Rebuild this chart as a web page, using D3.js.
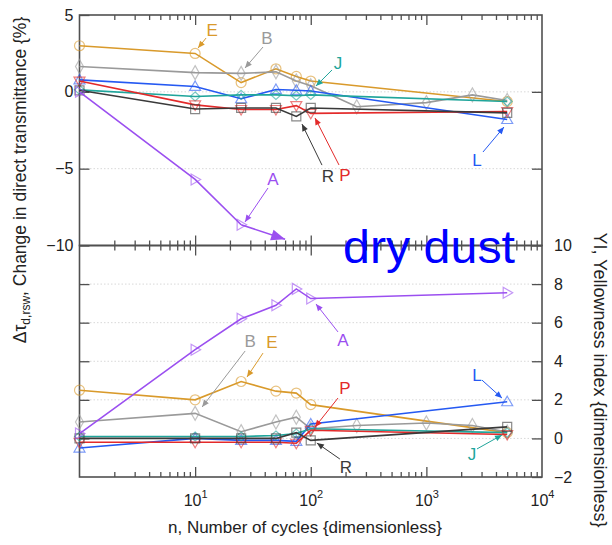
<!DOCTYPE html>
<html>
<head>
<meta charset="utf-8">
<script src="https://cdn.jsdelivr.net/npm/d3@7/dist/d3.min.js"></script>
<style>
  html, body { margin: 0; padding: 0; background: #fff; }
  svg { display: block; }
  text { font-family: "Liberation Sans", Arial, sans-serif; }
</style>
</head>
<body>
<svg id="chart" width="612" height="545"></svg>
<script>
// ---- data -------------------------------------------------------------
const cycles     = [1, 10, 25, 50, 75, 100, 5000];
const cyclesB    = [1, 10, 25, 50, 75, 100, 250, 1000, 2500, 5000];
const cyclesAtop = [1, 10, 25];

// change in direct transmittance, %
const transE = [3.0, 2.5, 0.6, 1.5, 1.0, 0.7, -0.63];
const transB = [1.65, 1.25, 1.2, 1.3, 0.7, 0.4, -0.97, -0.7, -0.2, -0.56];
const transL = [0.78, 0.35, -0.45, 0.15, 0.1, 0.05, -1.8];
const transJ = [0.13, -0.3, -0.2, -0.2, -0.25, -0.2, -0.63];
const transP = [0.7, -0.85, -1.15, -1.15, -0.9, -1.4, -1.28];
const transR = [0.1, -1.12, -1.05, -1.05, -1.6, -1.05, -1.37];
const transA = [0, -5.7, -8.65];
// A leaves the bottom of the transmittance panel after 25 cycles
const transAoff = {n: 60, v: -9.6};

// yellowness index
const yiE = [2.5, 2.0, 2.95, 2.45, 2.35, 1.75, 0.3];
const yiB = [0.85, 1.3, 0.35, 0.85, 1.1, 0.5, 0.67, 0.8, 0.67, 0.33];
const yiL = [-0.5, 0.0, -0.1, -0.1, -0.15, 0.75, 1.9];
const yiJ = [0.1, 0.1, 0.1, 0.15, 0.25, 0.5, 0.3];
const yiP = [-0.2, -0.2, -0.2, -0.2, -0.25, 0.42, 0.2];
const yiR = [0.0, 0.0, 0.0, 0.0, 0.3, -0.1, 0.6];
const yiA = [0.25, 4.6, 6.2, 6.9, 7.75, 7.25, 7.55];

const transTicks = [-10, -5, 0, 5];
const yiTicks    = [-2, 0, 2, 4, 6, 8, 10];
const cycleLabelTicks = [10, 100, 1000, 10000];

// ---- styling per sample ---------------------------------------------------
const style = {
  E: {color: "#d99a2b", shape: "circle"},
  B: {color: "#9a9a9a", shape: "tallDiamond"},
  L: {color: "#2559f2", shape: "triUp"},
  J: {color: "#20a59b", shape: "diamond"},
  P: {color: "#e32a2a", shape: "triDown"},
  R: {color: "#3a3a3a", shape: "square"},
  A: {color: "#9b4ff0", shape: "triRight"}
};

const topSeries = [
  {key: "E", n: cycles, v: transE},
  {key: "B", n: cyclesB, v: transB},
  {key: "L", n: cycles, v: transL},
  {key: "J", n: cycles, v: transJ},
  {key: "P", n: cycles, v: transP},
  {key: "R", n: cycles, v: transR},
  {key: "A", n: cyclesAtop, v: transA}
];
const botSeries = [
  {key: "E", n: cycles, v: yiE},
  {key: "B", n: cyclesB, v: yiB},
  {key: "L", n: cycles, v: yiL},
  {key: "J", n: cycles, v: yiJ},
  {key: "P", n: cycles, v: yiP},
  {key: "R", n: cycles, v: yiR},
  {key: "A", n: cycles, v: yiA}
];

// callouts: tip in data units, text / arrow-tail as pixel offsets from the tip
const topNotes = [
  {key: "E", n: 10.6, v: 2.85, sx: 8,  sy: -10, tx: 14, ty: -18},
  {key: "B", n: 27,   v: 1.55, sx: 18, sy: -21, tx: 22, ty: -30},
  {key: "J", n: 111,  v: 0.38, sx: 16, sy: -16, tx: 22, ty: -22},
  {key: "R", n: 84,   v: -2.1, sx: 20, sy: 41,  tx: 26, ty: 52},
  {key: "P", n: 108.8,v: -1.7, sx: 24, sy: 47,  tx: 30, ty: 58},
  {key: "L", n: 4690, v: -2.29,sx: -21,sy: 25,  tx: -27,ty: 33},
  {key: "A", n: 27,   v: -8.47,sx: 23, sy: -34, tx: 28, ty: -42}
];
const botNotes = [
  {key: "A", n: 111,  v: 6.97, sx: 22, sy: 28,  tx: 27, ty: 37},
  {key: "B", n: 11.5, v: 1.63, sx: 43, sy: -56, tx: 48, ty: -65},
  {key: "E", n: 28.1, v: 3.18, sx: 16, sy: -24, tx: 25, ty: -35},
  {key: "P", n: 108.8,v: 0.59, sx: 23, sy: -29, tx: 30, ty: -39},
  {key: "L", n: 4508, v: 2.09, sx: -20,sy: -18, tx: -25,ty: -23},
  {key: "R", n: 113,  v: -0.24,sx: 23, sy: 16,  tx: 29, ty: 24},
  {key: "J", n: 4508, v: 0.18, sx: -25,sy: 14,  tx: -30,ty: 20}
];

// ---- scales -----------------------------------------------------------
const L = 79.5, Rr = 542, T = 15, MID = 245.5, B = 477;
const x = d3.scaleLog().domain([1, 1e4]).range([L, Rr]);
const yTop = d3.scaleLinear().domain([-10, 5]).range([MID, T]);
const yBot = d3.scaleLinear().domain([-2, 10]).range([B, MID]);

const svg = d3.select("#chart");
const frameColor = "#505050";

// ---- gridlines ------------------------------------------------------------
const grid = svg.append("g").attr("stroke", "#d8d8d8").attr("stroke-width", 1)
  .attr("stroke-dasharray", "1.5,2");
grid.selectAll("line.t").data([-5, 0]).join("line")
  .attr("x1", L).attr("x2", Rr).attr("y1", d => yTop(d)).attr("y2", d => yTop(d));
grid.selectAll("line.b").data([0, 2, 4, 6, 8]).join("line")
  .attr("x1", L).attr("x2", Rr).attr("y1", d => yBot(d)).attr("y2", d => yBot(d));

// ---- axes / ticks -------------------------------------------------------------
const allLog = x.ticks();
const majors = allLog.filter(d => Math.abs(Math.log10(d) - Math.round(Math.log10(d))) < 1e-9);
const minors = allLog.filter(d => !majors.includes(d));

function edgeTicks(y, dir) {
  // dir: +1 draws ticks downward (top edge), -1 upward (bottom edge)
  const ax = dir > 0 ? d3.axisTop(x) : d3.axisBottom(x);
  svg.append("g").attr("transform", `translate(0,${y})`)
    .call(ax.tickValues(minors).tickSize(-5).tickFormat(""))
    .call(g => g.select(".domain").remove());
  svg.append("g").attr("transform", `translate(0,${y})`)
    .call((dir > 0 ? d3.axisTop(x) : d3.axisBottom(x)).tickValues(majors.filter(d => d > 1 && d < 1e4)).tickSize(-10).tickFormat(""))
    .call(g => g.select(".domain").remove());
}
edgeTicks(T, 1);
edgeTicks(MID, -1);
edgeTicks(MID, 1);
edgeTicks(B, -1);

// left, transmittance
svg.append("g").attr("transform", `translate(${L},0)`)
  .call(d3.axisLeft(yTop).tickValues(transTicks).tickSize(-10).tickPadding(6))
  .call(g => g.select(".domain").remove())
  .call(g => g.selectAll("text").attr("font-size", 16).attr("fill", "#222")
    .attr("font-family", "Liberation Sans, Arial, sans-serif"));
// right edge ticks of transmittance panel
svg.append("g").attr("transform", `translate(${Rr},0)`)
  .call(d3.axisRight(yTop).tickValues([-5, 0]).tickSize(-10).tickFormat(""))
  .call(g => g.select(".domain").remove());
// left edge ticks of YI panel
svg.append("g").attr("transform", `translate(${L},0)`)
  .call(d3.axisLeft(yBot).tickValues([0, 2, 4, 6, 8]).tickSize(-10).tickFormat(""))
  .call(g => g.select(".domain").remove());
// right, yellowness index
svg.append("g").attr("transform", `translate(${Rr},0)`)
  .call(d3.axisRight(yBot).tickValues(yiTicks).tickSize(-10).tickPadding(12))
  .call(g => g.select(".domain").remove())
  .call(g => g.selectAll("text").attr("font-size", 16).attr("fill", "#222")
    .attr("font-family", "Liberation Sans, Arial, sans-serif"));

svg.selectAll(".tick line").attr("stroke", frameColor).attr("stroke-width", 1.3);

// bottom labels 10^k
const xl = svg.append("g").attr("transform", `translate(0,${B})`)
  .call(d3.axisBottom(x).tickValues(cycleLabelTicks).tickSize(0).tickPadding(18).tickFormat(""))
  .call(g => g.select(".domain").remove());
xl.selectAll(".tick text").each(function(d) {
  const t = d3.select(this).attr("font-size", 16).attr("fill", "#222")
    .attr("font-family", "Liberation Sans, Arial, sans-serif");
  t.append("tspan").text("10");
  t.append("tspan").attr("font-size", 11).attr("dy", -8).text(Math.round(Math.log10(d)));
});

// frames
svg.append("rect").attr("x", L).attr("y", T).attr("width", Rr - L).attr("height", MID - T)
  .attr("fill", "none").attr("stroke", frameColor).attr("stroke-width", 1.6);
svg.append("rect").attr("x", L).attr("y", MID).attr("width", Rr - L).attr("height", B - MID)
  .attr("fill", "none").attr("stroke", frameColor).attr("stroke-width", 1.6);

// ---- markers ---------------------------------------------------------------
function markerPath(shape) {
  switch (shape) {
    case "circle": return "M5,0A5,5 0 1,1 -5,0A5,5 0 1,1 5,0Z";
    case "tallDiamond": return "M0,-7L4,0L0,7L-4,0Z";
    case "diamond": return "M0,-4.5L5,0L0,4.5L-5,0Z";
    case "triUp": return "M0,-5.5L5.5,4L-5.5,4Z";
    case "triDown": return "M0,5.5L5.5,-4L-5.5,-4Z";
    case "square": return "M-4.5,-4.5H4.5V4.5H-4.5Z";
    case "triRight": return "M5.5,0L-4,5.5L-4,-5.5Z";
  }
}

function drawPanel(series, y) {
  const g = svg.append("g");
  const line = d3.line().x(d => x(d[0])).y(d => y(d[1]));
  series.forEach(s => {
    const st = style[s.key];
    const pts = s.n.map((n, i) => [n, s.v[i]]);
    g.append("path").attr("d", line(pts)).attr("fill", "none")
      .attr("stroke", st.color).attr("stroke-width", 1.6);
    g.selectAll(null).data(pts).join("path")
      .attr("transform", d => `translate(${x(d[0])},${y(d[1])})`)
      .attr("d", markerPath(st.shape))
      .attr("fill", "none").attr("stroke", st.color).attr("stroke-opacity", 0.6)
      .attr("stroke-width", 1.2);
  });
  return g;
}

function arrowHead(g, x0, y0, x1, y1, color, len, half) {
  const a = Math.atan2(y1 - y0, x1 - x0);
  const bx = x1 - len * Math.cos(a), by = y1 - len * Math.sin(a);
  const px = -Math.sin(a) * half, py = Math.cos(a) * half;
  g.append("path")
    .attr("d", `M${x1},${y1}L${bx + px},${by + py}L${bx - px},${by - py}Z`)
    .attr("fill", color);
}

const gTop = drawPanel(topSeries, yTop);
// A continues below -10 after 25 cycles
{
  const last = cyclesAtop.length - 1;
  const x0 = x(cyclesAtop[last]), y0 = yTop(transA[last]);
  const x1 = x(transAoff.n), y1 = yTop(transAoff.v);
  gTop.append("line").attr("x1", x0).attr("y1", y0).attr("x2", x1).attr("y2", y1)
    .attr("stroke", style.A.color).attr("stroke-width", 1.6);
  arrowHead(gTop, x0, y0, x1, y1, style.A.color, 14, 5.5);
}
drawPanel(botSeries, yBot);

// ---- callouts ----------------------------------------------------------------
function drawNotes(notes, y) {
  const g = svg.append("g");
  notes.forEach(nt => {
    const c = style[nt.key].color;
    const tx = x(nt.n), ty = y(nt.v);
    g.append("line").attr("x1", tx + nt.sx).attr("y1", ty + nt.sy).attr("x2", tx).attr("y2", ty)
      .attr("stroke", c).attr("stroke-width", 1);
    arrowHead(g, tx + nt.sx, ty + nt.sy, tx, ty, c, 7, 3);
    g.append("text").attr("x", tx + nt.tx).attr("y", ty + nt.ty)
      .attr("text-anchor", "middle").attr("dominant-baseline", "central")
      .attr("font-size", 17).attr("fill", c).text(nt.key);
  });
}
drawNotes(topNotes, yTop);
drawNotes(botNotes, yBot);

// ---- titles -----------------------------------------------------------------
const lt = svg.append("text")
  .attr("transform", "translate(26,180) rotate(-90)")
  .attr("text-anchor", "middle").attr("font-size", 17.5).attr("fill", "#222");
lt.append("tspan").text("\u0394\u03c4");
lt.append("tspan").attr("font-size", 12).attr("dy", 4).text("d,rsw");
lt.append("tspan").attr("dy", -4).text(", Change in direct transmittance {%}");

svg.append("text")
  .attr("transform", "translate(594,380) rotate(90)")
  .attr("text-anchor", "middle").attr("font-size", 18).attr("fill", "#222")
  .text("YI, Yellowness index {dimensionless}");

svg.append("text").attr("x", 305).attr("y", 533)
  .attr("text-anchor", "middle").attr("font-size", 17).attr("fill", "#222")
  .text("n, Number of cycles {dimensionless}");

svg.append("text").attr("x", 343).attr("y", 263)
  .attr("font-family", "Lato, 'Open Sans', sans-serif").attr("font-size", 46)
  .attr("fill", "#0000ff").attr("textLength", 172).attr("lengthAdjust", "spacingAndGlyphs")
  .text("dry dust");
</script>
</body>
</html>
